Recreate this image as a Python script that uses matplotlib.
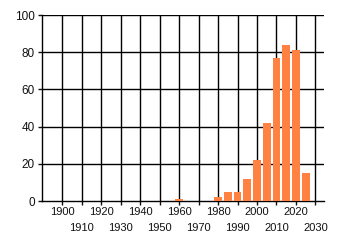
import numpy as np
import matplotlib
matplotlib.use("Agg")
import matplotlib.pyplot as plt

years = [1960, 1980, 1985, 1990, 1995, 2000, 2005, 2010, 2015, 2020, 2025]
counts = [1, 2, 5, 5, 12, 22, 42, 77, 84, 81, 15]

row1_ticks = [1900, 1920, 1940, 1960, 1980, 2000, 2020]
row2_ticks = [1910, 1930, 1950, 1970, 1990, 2010, 2030]
y_ticks = [0, 20, 40, 60, 80, 100]

plt.rcParams['font.family'] = ['Liberation Sans', 'DejaVu Sans']

fig = plt.figure(figsize=(3.4, 2.45), dpi=100)
ax = fig.add_axes([42/340, 44/245, 282/340, 186/245])

ax.bar(years, counts, width=4.0, color='#ff8243', zorder=3)

ax.set_xlim(1889.6, 2034.4)
ax.set_ylim(0, 100)

ax.set_xticks(row1_ticks)
ax.set_xticks(row2_ticks, minor=True)
ax.set_xticklabels([str(t) for t in row1_ticks])
ax.set_xticklabels([str(t) for t in row2_ticks], minor=True)
ax.set_yticks(y_ticks)

ax.tick_params(axis='x', which='major', length=3, width=1, pad=1.5,
               labelsize=8, colors='#111111')
ax.tick_params(axis='x', which='minor', length=3, width=1, pad=12.5,
               labelsize=8, colors='#111111')
ax.tick_params(axis='y', length=3, width=1, pad=2, labelsize=8.5,
               colors='#111111')

for x in row1_ticks + row2_ticks:
    ax.axvline(x, color='black', lw=1, zorder=1)
for y in y_ticks[1:]:
    ax.axhline(y, color='black', lw=1, zorder=1)

for s in ['top', 'right']:
    ax.spines[s].set_visible(False)
ax.spines['left'].set_linewidth(1)
ax.spines['bottom'].set_linewidth(1)

fig.savefig('out.png', dpi=100)
